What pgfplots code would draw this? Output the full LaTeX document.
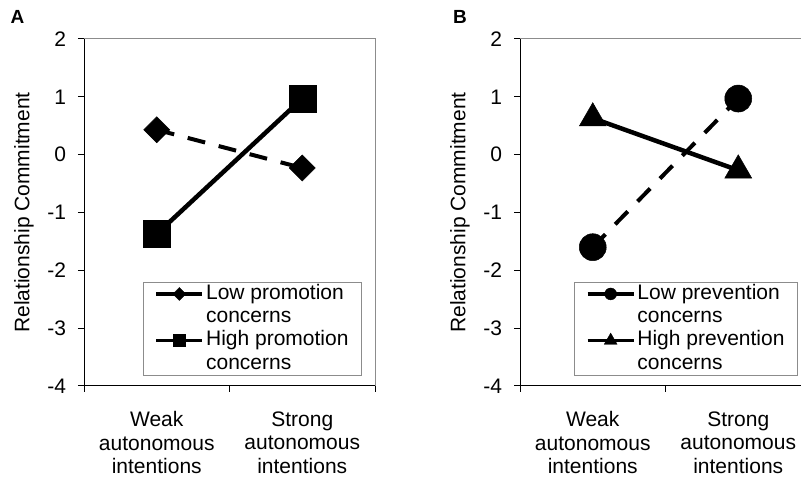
\documentclass[border=0pt]{standalone}
\usepackage{fontspec}
\setmainfont{Liberation Sans}
\usepackage{pgfplots}
\pgfplotsset{compat=1.18}
\definecolor{framegray}{RGB}{140,140,140}
\newcommand{\chartfont}{\fontsize{21bp}{23.5bp}\selectfont}
\pgfplotsset{
  panel/.style={
    scale only axis, width=291bp, height=347bp,
    xmin=0, xmax=2, ymin=-4, ymax=2,
    ytick={-4,-3,-2,-1,0,1,2},
    xtick={0,1,2}, xticklabels={},
    extra x ticks={0.5,1.5},
    extra x tick style={major tick length=0pt, tick label style={align=center, font=\chartfont, yshift=-22bp}},
    xtick pos=bottom, ytick pos=left,
    tick align=outside, major tick length=6bp,
    tick style={black, line width=1bp},
    axis line style={framegray, line width=1bp},
    /pgf/number format/assume math mode=true,
    yticklabel style={font=\chartfont, xshift=-8.5bp},
    every axis y label/.style={at={(rel axis cs:0,0.5)}, anchor=center, xshift=-60bp, rotate=90, font=\chartfont},
    legend style={at={(rel axis cs:1,0)}, anchor=south east, xshift=-13bp, yshift=10bp,
      draw=framegray, line width=1bp, fill=white, font=\chartfont,
      inner xsep=11bp, inner ysep=0bp, row sep=0pt,
      nodes={inner xsep=2bp, inner ysep=2bp, text height=15bp, text depth=4.3bp},
      /tikz/every even column/.append style={column sep=0pt}},
    legend cell align=left,
    legend image code/.code={\draw[mark repeat=2,mark phase=2,#1] plot coordinates {(0bp,0bp) (23bp,0bp) (46bp,0bp)};},
  }
}
\begin{document}
\begin{tikzpicture}[x=1bp,y=1bp]
\path[use as bounding box] (0,0) rectangle (801,478);
\node[font=\fontsize{19bp}{20bp}\selectfont\bfseries] at (17.5,461.5) {A};
\node[font=\fontsize{19bp}{20bp}\selectfont\bfseries] at (460,461.5) {B};
\begin{axis}[panel, at={(84bp,92bp)}, anchor=south west,
  extra x tick labels={{Weak\\autonomous\\intentions},{Strong\\autonomous\\intentions}},
  ylabel={Relationship Commitment}]
\addplot[black, line width=4bp, dash pattern=on 18bp off 14bp, mark=square*, mark size=9.2bp, mark options={solid, rotate=45, line width=0.5bp}, forget plot] coordinates {(0.5,0.43) (1.5,-0.23)};
\addplot[black, line width=4.5bp, mark=square*, mark size=13.5bp, mark options={solid, line width=0.5bp}, forget plot] coordinates {(0.5,-1.37) (1.5,0.97)};
\draw[black, line width=1.2bp] (rel axis cs:0,1) -- (rel axis cs:0,0) -- (rel axis cs:1,0);
\addlegendimage{black, line width=3.5bp, solid, mark=square*, mark size=4.6bp, mark options={rotate=45, line width=0.3bp}}
\addlegendentry{Low promotion}
\addlegendimage{empty legend}
\addlegendentry{concerns}
\addlegendimage{black, line width=3.5bp, solid, mark=square*, mark size=6bp, mark options={line width=0.3bp}}
\addlegendentry{High promotion}
\addlegendimage{empty legend}
\addlegendentry{concerns}
\end{axis}
\begin{axis}[panel, at={(520bp,92bp)}, anchor=south west,
  extra x tick labels={{Weak\\autonomous\\intentions},{Strong\\autonomous\\intentions}},
  ylabel={Relationship Commitment}]
\addplot[black, line width=4bp, dash pattern=on 18bp off 14bp, mark=*, mark size=13.5bp, mark options={solid, line width=0.5bp}, forget plot] coordinates {(0.5,-1.6) (1.5,0.97)};
\addplot[black, line width=4.5bp, mark=triangle*, mark size=15.5bp, mark options={solid, line width=0.5bp}, forget plot] coordinates {(0.5,0.63) (1.5,-0.27)};
\draw[black, line width=1.2bp] (rel axis cs:0,1) -- (rel axis cs:0,0) -- (rel axis cs:1,0);
\addlegendimage{black, line width=3.5bp, solid, mark=*, mark size=6bp, mark options={line width=0.3bp}}
\addlegendentry{Low prevention}
\addlegendimage{empty legend}
\addlegendentry{concerns}
\addlegendimage{black, line width=3.5bp, solid, mark=triangle*, mark size=7.5bp, mark options={line width=0.3bp}}
\addlegendentry{High prevention}
\addlegendimage{empty legend}
\addlegendentry{concerns}
\end{axis}
\end{tikzpicture}
\end{document}
